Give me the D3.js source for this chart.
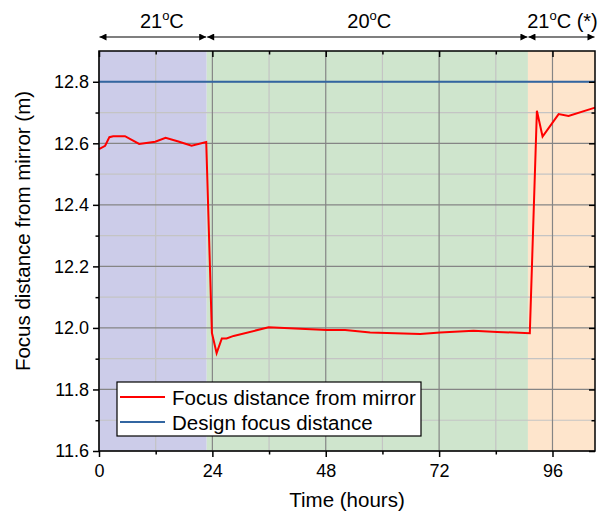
<!DOCTYPE html>
<html><head><meta charset="utf-8">
<script src="https://cdn.jsdelivr.net/npm/d3@7"></script>
<style>body{margin:0;background:#fff} svg{display:block}</style>
</head><body><svg id="c" width="599" height="514"></svg>
<script>
// ---- data ----
const timeHours = [0, 1.3, 2.2, 3.0, 5.5, 8.5, 11.9, 14.1, 16.8, 19.6, 22.7, 23.9, 24.9, 26.0, 27.0, 28.5, 35.9, 48.2, 52.1, 57.4, 68.0, 72.2, 79.3, 84.3, 91.2, 92.7, 93.9, 97.3, 99.4, 105];
const focusDistance = [12.581, 12.592, 12.620, 12.623, 12.623, 12.598, 12.605, 12.618, 12.606, 12.592, 12.604, 11.984, 11.918, 11.966, 11.966, 11.974, 12.002, 11.993, 11.993, 11.985, 11.980, 11.985, 11.991, 11.987, 11.983, 12.706, 12.622, 12.695, 12.689, 12.716];
const designFocus = 12.8;
const phaseStart = [0, 22.8, 90.8];
const phaseEnd = [22.8, 90.8, 105];
const phaseTemp = ["21", "20", "21"];
const phaseNote = ["", "", " (*)"];
const xTickValues = [0, 24, 48, 72, 96];
const xMinorValues = [12, 36, 60, 84];
const yTickValues = [11.6, 11.8, 12.0, 12.2, 12.4, 12.6, 12.8];
const yMinorValues = [11.7, 11.9, 12.1, 12.3, 12.5, 12.7];
const legendLabels = ["Focus distance from mirror", "Design focus distance"];

// ---- layout ----
const L = 99, R = 595, T = 51, B = 451;
const svg = d3.select("#c");
const font = "'Liberation Sans', Arial, sans-serif";
const x = d3.scaleLinear().domain([0, 105]).range([L, R]);
const y = d3.scaleLinear().domain([11.6, 12.9]).range([B, T]);
const phaseFill = ["#cccce9", "#cfe5cd", "#fee5cc"];

// shaded phases
svg.append("g").selectAll("rect").data(phaseStart).join("rect")
  .attr("x", (d) => x(d)).attr("y", T)
  .attr("width", (d, i) => x(phaseEnd[i]) - x(d)).attr("height", B - T)
  .attr("fill", (d, i) => phaseFill[i]);

// grid
const grid = svg.append("g");
grid.selectAll(".vm").data(xMinorValues).join("line")
  .attr("x1", d => x(d)).attr("x2", d => x(d)).attr("y1", T).attr("y2", B)
  .attr("stroke", "#c4c4c4").attr("stroke-width", 1.2);
grid.selectAll(".hm").data(yMinorValues).join("line")
  .attr("y1", d => y(d)).attr("y2", d => y(d)).attr("x1", L).attr("x2", R)
  .attr("stroke", "#c4c4c4").attr("stroke-width", 1.2);
grid.selectAll(".vM").data(xTickValues).join("line")
  .attr("x1", d => x(d)).attr("x2", d => x(d)).attr("y1", T).attr("y2", B)
  .attr("stroke", "#858585").attr("stroke-width", 1.2);
grid.selectAll(".hM").data(yTickValues).join("line")
  .attr("y1", d => y(d)).attr("y2", d => y(d)).attr("x1", L).attr("x2", R)
  .attr("stroke", "#858585").attr("stroke-width", 1.2);

// design line
svg.append("line").attr("x1", L).attr("x2", R).attr("y1", y(designFocus)).attr("y2", y(designFocus))
  .attr("stroke", "#3366a1").attr("stroke-width", 2);

// measured line
const line = d3.line().x((d, i) => x(timeHours[i])).y(d => y(d));
svg.append("path").datum(focusDistance).attr("d", line)
  .attr("fill", "none").attr("stroke", "#ff0000").attr("stroke-width", 2).attr("stroke-linejoin", "miter");

// axes
const axB = d3.axisBottom(x).tickValues(xTickValues).tickSize(6).tickSizeOuter(0).tickPadding(7);
const axBm = d3.axisBottom(x).tickValues(xMinorValues).tickSize(3.5).tickSizeOuter(0).tickFormat("");
const axL = d3.axisLeft(y).tickValues(yTickValues).tickFormat(d3.format(".1f")).tickSize(6).tickSizeOuter(0).tickPadding(4);
const axLm = d3.axisLeft(y).tickValues(yMinorValues).tickSize(3.5).tickSizeOuter(0).tickFormat("");
const axT = d3.axisBottom(x).tickValues(xTickValues).tickSize(6).tickSizeOuter(0).tickFormat("");
const axTm = d3.axisBottom(x).tickValues(xMinorValues).tickSize(3.5).tickSizeOuter(0).tickFormat("");
const axR = d3.axisLeft(y).tickValues(yTickValues).tickSize(6).tickSizeOuter(0).tickFormat("");
const axRm = d3.axisLeft(y).tickValues(yMinorValues).tickSize(3.5).tickSizeOuter(0).tickFormat("");

function styleAxis(g) {
  g.select(".domain").remove();
  g.selectAll("line").attr("stroke", "#000").attr("stroke-width", 1.5);
  g.selectAll("text").attr("fill", "#000").style("font-family", font).style("font-size", "18px");
}
svg.append("g").attr("transform", `translate(0,${B})`).call(axB).call(styleAxis);
svg.append("g").attr("transform", `translate(0,${B})`).call(axBm).call(styleAxis);
svg.append("g").attr("transform", `translate(${L},0)`).call(axL).call(styleAxis);
svg.append("g").attr("transform", `translate(${L},0)`).call(axLm).call(styleAxis);
svg.append("g").attr("transform", `translate(0,${T})`).call(axT).call(styleAxis);
svg.append("g").attr("transform", `translate(0,${T})`).call(axTm).call(styleAxis);
svg.append("g").attr("transform", `translate(${R},0)`).call(axR).call(styleAxis);
svg.append("g").attr("transform", `translate(${R},0)`).call(axRm).call(styleAxis);

// frame
svg.append("rect").attr("x", L).attr("y", T).attr("width", R - L).attr("height", B - T)
  .attr("fill", "none").attr("stroke", "#000").attr("stroke-width", 1.5);

// axis titles
svg.append("text").attr("x", (L + R) / 2).attr("y", 507).attr("text-anchor", "middle")
  .style("font-family", font).style("font-size", "20.5px").text("Time (hours)");
svg.append("text").attr("transform", "translate(30,231) rotate(-90)").attr("text-anchor", "middle")
  .style("font-family", font).style("font-size", "20.5px").text("Focus distance from mirror (m)");

// legend
const lg = svg.append("g");
lg.append("rect").attr("x", 117).attr("y", 382).attr("width", 304).attr("height", 54)
  .attr("fill", "#fff").attr("stroke", "#000").attr("stroke-width", 1.2);
const legColors = ["#ff0000", "#3366a1"];
legendLabels.forEach((t, i) => {
  const cy = 397 + i * 25;
  lg.append("line").attr("x1", 120).attr("x2", 165).attr("y1", cy).attr("y2", cy)
    .attr("stroke", legColors[i]).attr("stroke-width", 2);
  lg.append("text").attr("x", 172).attr("y", cy + 7.5)
    .style("font-family", font).style("font-size", "20.5px").text(t);
});

// top phase annotations
const defs = svg.append("defs");
defs.append("marker").attr("id", "ah").attr("viewBox", "0 0 10 10").attr("refX", 10).attr("refY", 5)
  .attr("markerWidth", 10).attr("markerHeight", 7).attr("markerUnits", "userSpaceOnUse").attr("orient", "auto-start-reverse")
  .append("path").attr("d", "M0,0 L10,5 L0,10 Z").attr("fill", "#000");
const ann = svg.append("g");
const ay = 37;
const labelShift = [9, 2, 1];
phaseStart.forEach((s, i) => {
  const x1 = x(s), x2 = x(phaseEnd[i]);
  ann.append("line").attr("x1", x1 + 0.5).attr("x2", x2 - 0.5).attr("y1", ay).attr("y2", ay)
    .attr("stroke", "#000").attr("stroke-width", 1.2)
    .attr("marker-start", "url(#ah)").attr("marker-end", "url(#ah)");
  const t = ann.append("text").attr("x", (x1 + x2) / 2 + labelShift[i]).attr("y", 28).attr("text-anchor", "middle")
    .style("font-family", font).style("font-size", "20px");
  t.append("tspan").text(phaseTemp[i]);
  t.append("tspan").attr("dy", -8).style("font-size", "13px").text("o");
  t.append("tspan").attr("dy", 8).text("C" + phaseNote[i]);
});
</script>
</body></html>
